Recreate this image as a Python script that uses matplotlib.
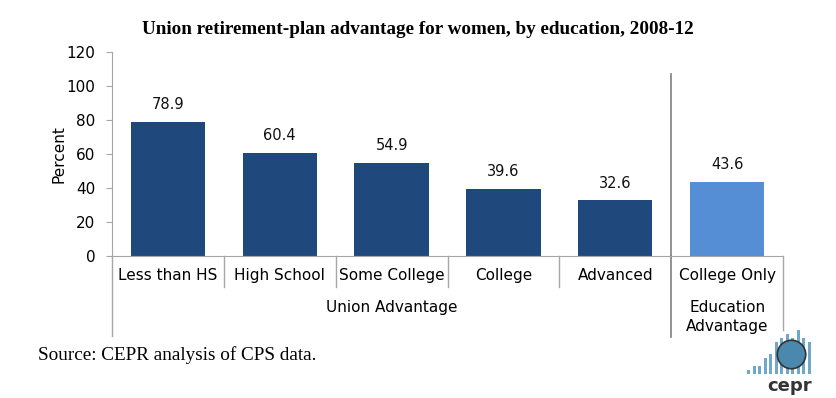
import matplotlib.pyplot as plt
from matplotlib.transforms import blended_transform_factory

categories = ["Less than HS", "High School", "Some College", "College", "Advanced", "College Only"]
values = [78.9, 60.4, 54.9, 39.6, 32.6, 43.6]
groups = ["Union Advantage", "Education\nAdvantage"]
group_sizes = [5, 1]

dark_blue = "#1F497D"
light_blue = "#558ED5"
line_gray = "#A6A6A6"

fig = plt.figure(figsize=(8.36, 3.98), dpi=100)
ax = fig.add_axes([112 / 836, 1 - 256 / 398, (783 - 112) / 836, (256 - 51.7) / 398])

colors = [dark_blue] * group_sizes[0] + [light_blue] * group_sizes[1]
x = list(range(len(categories)))
bars = ax.bar(x, values, width=0.665, color=colors)

for xi, v in zip(x, values):
    ax.annotate(f"{v:.1f}", (xi, v), xytext=(0, 7), textcoords="offset points",
                ha="center", va="bottom", fontsize=10.5, color="#111111")

ax.set_xlim(-0.5, len(categories) - 0.5)
ax.set_ylim(0, 120)
ax.set_yticks(range(0, 121, 20))
ax.tick_params(axis="y", length=4, color=line_gray, labelsize=11, pad=8)
ax.set_xticks([])
for s in ["top", "right"]:
    ax.spines[s].set_visible(False)
for s in ["left", "bottom"]:
    ax.spines[s].set_color(line_gray)
ax.set_ylabel("Percent", fontsize=11, labelpad=0)

trans = blended_transform_factory(ax.transData, ax.transAxes)
# left axis line extends down through the category box
ax.plot([-0.5, -0.5], [0, -0.39], transform=trans, color=line_gray, lw=1, clip_on=False)
# separators between categories
for b in [0.5, 1.5, 2.5, 3.5]:
    ax.plot([b, b], [0, -0.152], transform=trans, color=line_gray, lw=1, clip_on=False)
# right edge of box
ax.plot([5.5, 5.5], [0, -0.36], transform=trans, color=line_gray, lw=1, clip_on=False)
# group divider
ax.plot([4.5, 4.5], [106.9, 0], color="#7F7F7F", lw=1.2, clip_on=False)
ax.plot([4.5, 4.5], [0, -0.395], transform=trans, color="#7F7F7F", lw=1.2, clip_on=False)

for xi, c in zip(x, categories):
    ax.text(xi, -0.095, c, transform=trans, ha="center", va="center", fontsize=11)

start = 0
for g, n in zip(groups, group_sizes):
    center = start + (n - 1) / 2
    ax.text(center, -0.215, g, transform=trans, ha="center", va="top", fontsize=11,
            linespacing=1.3)
    start += n

fig.text(0.5, 1 - 30 / 398, "Union retirement-plan advantage for women, by education, 2008-12",
         ha="center", va="center", family="Liberation Serif", fontweight="bold", fontsize=13.8)
fig.text(38 / 836, 1 - 355 / 398, "Source: CEPR analysis of CPS data.",
         ha="left", va="center", family="Liberation Serif", fontsize=13.8)

# small logo
logo_bars = [1, 2, 2, 4, 5, 8, 9, 10, 9, 11, 9, 8]
lax = fig.add_axes([746 / 836, 1 - 374 / 398, 66 / 836, 46 / 398])
lax.bar(range(len(logo_bars)), logo_bars, width=0.5, color="#6FA8C8")
lax.scatter([7.6], [5.0], s=420, color="#4A89AD", edgecolor="#333333", linewidth=1.2, zorder=3)
lax.set_xlim(-0.5, len(logo_bars) - 0.5)
lax.set_ylim(0, 11.5)
lax.axis("off")
fig.text(790 / 836, 1 - 386 / 398, "cepr", ha="center", va="center",
         fontsize=13, fontweight="bold", color="#333333")

fig.savefig("out.png", dpi=100)
